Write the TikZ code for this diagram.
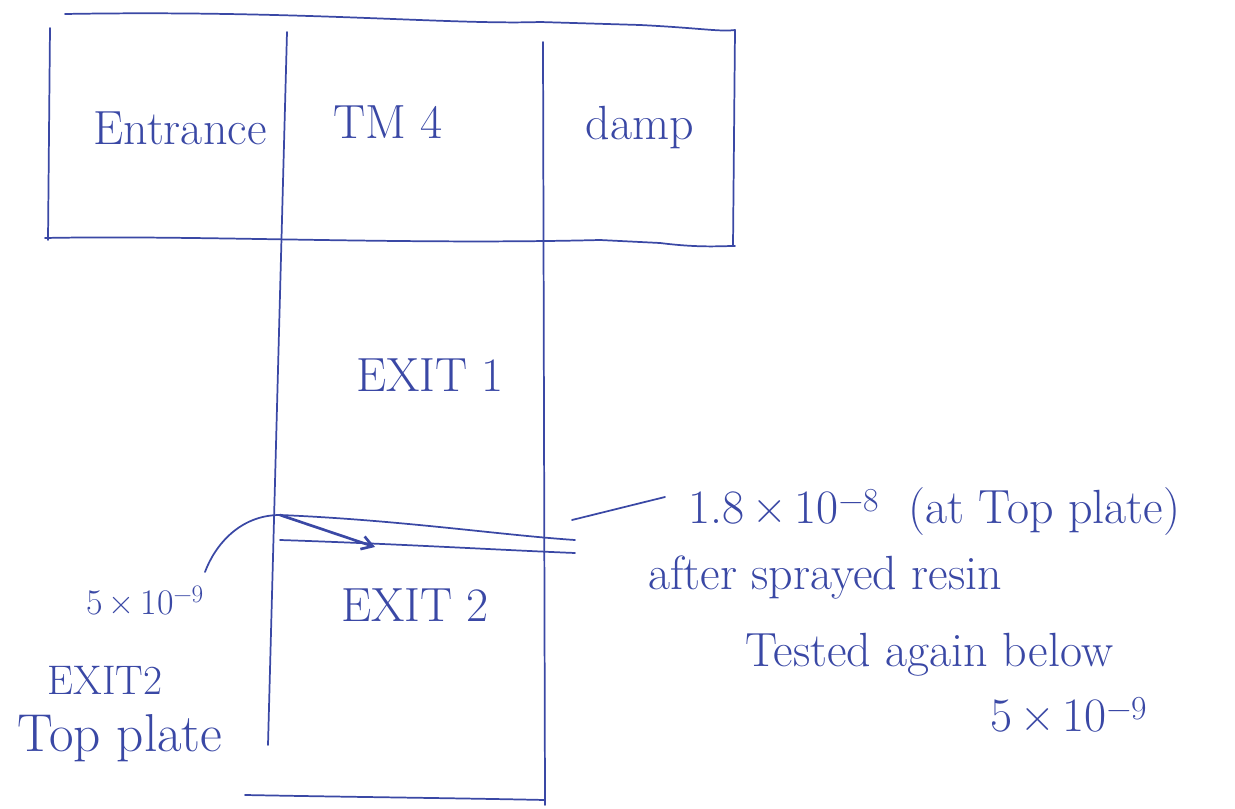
\documentclass[tikz,border=0pt]{standalone}
\usetikzlibrary{arrows.meta}
\definecolor{ink}{RGB}{58,72,165}
\newcommand{\sci}[2]{#1\,\texttimes\,10\textsuperscript{\textminus#2}}
\begin{document}
\begin{tikzpicture}[x=0.75pt,y=-0.75pt,
  pen/.style={draw=ink,line width=1.3pt,line cap=round,line join=round},
  lbl/.style={text=ink,inner sep=0pt,font=\fontsize{36}{40}\selectfont},
  note/.style={text=ink,inner sep=0pt,font=\fontsize{36}{40}\selectfont}]
\useasboundingbox (0,0) rectangle (1235,809);
% top band
\draw[pen] (65,14) .. controls (300,10) and (450,25) .. (540,22) -- (640,25) .. controls (700,28) and (720,32) .. (735,30);
\draw[pen] (50,28) -- (48,240);
\draw[pen] (45,238) .. controls (200,235) and (400,245) .. (600,240) -- (660,243) .. controls (700,248) and (720,246) .. (735,246);
\draw[pen] (735,30) -- (733,246);
% column
\draw[pen] (287,32) -- (268,745);
\draw[pen] (543,42) -- (545,805);
\draw[pen] (245,795) .. controls (350,797) and (450,798) .. (545,800);
% joint lines
\coordinate (jl1) at (280,515);
\coordinate (jl2) at (280,540);
\coordinate (jr1) at (575,540);
\coordinate (jr2) at (575,553);
\draw[pen] (jl1) .. controls (400,520) and (500,535) .. (jr1);
\draw[pen] (jl2) .. controls (400,544) and (500,550) .. (jr2);
\draw[pen,line width=2pt,-{Straight Barb[length=8pt,width=10pt]}] (jl1) -- (375,547);
% labels
\node[lbl] (entr) at (180,128) {Entrance};
\node[lbl] (tm) at (388,122) {TM 4};
\node[lbl] (damp) at (640,128) {damp};
\node[lbl] (exit1) at (430,375) {EXIT 1};
\node[lbl] (exit2) at (415,605) {EXIT 2};
% left annotation
\node[note,font=\fontsize{27}{30}\selectfont] (val) at (145,600) {\sci{5}{9}};
\node[note,font=\fontsize{31}{34}\selectfont] (e2) at (105,680) {EXIT2};
\node[note,font=\fontsize{40}{44}\selectfont] (tp) at (120,738) {Top plate};
\draw[pen] (jl1) .. controls (240,515) and (215,545) .. (205,572);
% right annotation
\node[note,anchor=west] (r1) at (688,512) {\sci{1.8}{8} \ (at Top plate)};
\node[note,anchor=west] (r2) at (648,578) {after sprayed resin};
\node[note,anchor=west] (r3) at (745,655) {Tested again below};
\node[note,anchor=west] (r4) at (990,715) {\sci{5}{9}};
\coordinate (le) at (665,497);
\draw[pen] (572,520) -- (le);
\end{tikzpicture}
\end{document}
